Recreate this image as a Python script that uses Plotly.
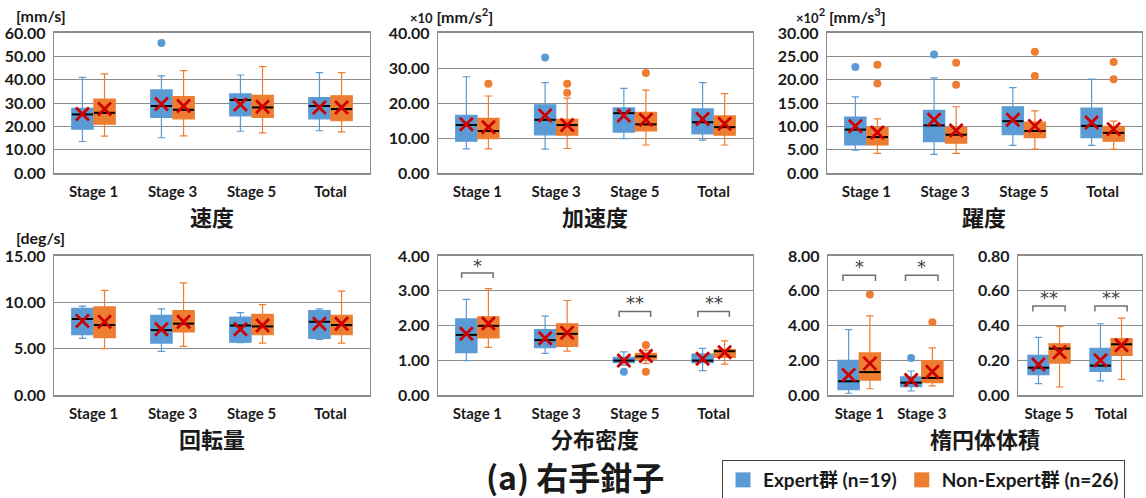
import plotly.graph_objects as go

W, H = 1146, 498

BLUE = "#5B9BD5"
ORANGE = "#ED7D31"
RED = "#D00000"
GRID = "#8C8C8C"
TEXT = "#1A1A1A"

group_names = ["Expert群 (n=19)", "Non-Expert群 (n=26)"]
cats_all = ["Stage 1", "Stage 3", "Stage 5", "Total"]
cats_early = ["Stage 1", "Stage 3"]
cats_late = ["Stage 5", "Total"]

# each row: (lower whisker, Q1, median, Q3, upper whisker, mean)
speed_exp = [(13.5, 18.8, 25.1, 27.7, 41.0, 25.3),
             (15.1, 23.8, 28.7, 35.6, 41.6, 29.6),
             (17.9, 24.5, 31.3, 33.9, 42.0, 29.4),
             (18.1, 23.2, 28.7, 32.3, 43.0, 28.1)]
speed_non = [(15.8, 20.9, 25.8, 31.7, 42.5, 27.4),
             (15.9, 23.2, 27.1, 32.7, 43.9, 28.7),
             (17.2, 23.8, 28.1, 33.3, 45.6, 28.4),
             (17.6, 22.4, 27.4, 33.1, 43.0, 28.1)]
speed_exp_out = [(1, 55.7)]
speed_non_out = []

accel_exp = [(6.9, 9.1, 13.7, 16.5, 27.5, 13.9),
             (6.8, 10.9, 15.2, 19.5, 25.8, 16.4),
             (9.8, 11.7, 17.1, 18.6, 24.2, 16.4),
             (9.4, 11.2, 14.5, 18.3, 25.8, 15.4)]
accel_non = [(6.9, 9.8, 12.0, 15.6, 22.0, 13.1),
             (7.0, 10.8, 13.7, 15.3, 21.4, 13.7),
             (8.0, 12.0, 13.9, 17.3, 23.7, 15.2),
             (8.0, 10.8, 13.1, 16.3, 22.7, 14.1)]
accel_exp_out = [(1, 33.0)]
accel_non_out = [(0, 25.5), (1, 25.5), (1, 22.9), (2, 28.6)]

jerk_exp = [(4.9, 6.0, 9.3, 12.0, 16.3, 10.0),
            (4.0, 6.7, 10.2, 13.4, 20.4, 11.4),
            (5.9, 8.2, 11.1, 14.2, 18.3, 11.4),
            (5.9, 7.6, 10.1, 13.9, 20.1, 10.8)]
jerk_non = [(4.2, 6.0, 7.7, 9.8, 11.6, 8.7),
            (4.2, 6.4, 8.2, 9.8, 14.2, 9.1),
            (5.1, 7.6, 9.0, 10.9, 13.3, 10.1),
            (5.1, 6.8, 8.6, 10.0, 11.1, 9.4)]
jerk_exp_out = [(0, 22.7), (1, 25.4)]
jerk_non_out = [(0, 23.2), (0, 19.2), (1, 23.6), (1, 18.9),
                (2, 26.0), (2, 20.8), (3, 23.8), (3, 20.1)]

rot_exp = [(6.1, 6.5, 8.2, 9.35, 9.6, 8.0),
           (4.7, 5.6, 7.0, 8.6, 9.3, 7.1),
           (5.65, 5.7, 7.5, 8.4, 8.9, 7.1),
           (6.0, 6.1, 7.9, 9.1, 9.3, 7.7)]
rot_non = [(5.0, 6.2, 7.55, 9.5, 11.3, 7.9),
           (5.25, 6.8, 7.7, 9.1, 12.1, 7.9),
           (5.6, 6.5, 7.4, 8.7, 9.75, 7.5),
           (5.6, 6.5, 7.55, 8.6, 11.2, 7.7)]

dens_exp = [(0.99, 1.22, 1.73, 2.19, 2.75, 1.76),
            (1.20, 1.36, 1.58, 1.88, 2.27, 1.63),
            (0.86, 0.93, 0.99, 1.08, 1.24, 0.99),
            (0.70, 0.93, 0.99, 1.18, 1.34, 1.04)]
dens_non = [(1.37, 1.64, 1.99, 2.25, 3.06, 2.06),
            (1.26, 1.40, 1.76, 2.05, 2.72, 1.79),
            (0.91, 1.03, 1.11, 1.20, 1.29, 1.12),
            (0.89, 1.08, 1.26, 1.31, 1.56, 1.23)]
dens_exp_out = [(2, 0.67)]
dens_non_out = [(2, 1.44), (2, 0.67)]
dens_sig = [(0, "*"), (2, "**"), (3, "**")]

vol_a_exp = [(0.10, 0.31, 0.79, 2.00, 3.76, 1.15),
             (0.23, 0.48, 0.71, 1.04, 1.38, 0.86)]
vol_a_non = [(0.36, 0.86, 1.32, 2.42, 4.55, 1.82),
             (0.52, 0.71, 0.98, 1.98, 2.71, 1.34)]
vol_a_exp_out = [(1, 2.13)]
vol_a_non_out = [(0, 5.78), (1, 4.18)]
vol_a_sig = [(0, "*"), (1, "*")]

vol_b_exp = [(0.065, 0.117, 0.157, 0.228, 0.332, 0.176),
             (0.081, 0.136, 0.169, 0.269, 0.410, 0.200)]
vol_b_non = [(0.046, 0.184, 0.267, 0.295, 0.395, 0.246),
             (0.090, 0.228, 0.292, 0.324, 0.443, 0.286)]
vol_b_sig = [(0, "**"), (1, "**")]


def px_x(a, b):
    return [a / W, b / W]


def px_y(top, bottom):
    return [1 - bottom / H, 1 - top / H]


TOP = (33, 173)
BOT = (256, 395)

# panel layout: pixel box, y range, tick step, box offsets and widths
panels = [
    dict(cats=cats_all, exp=speed_exp, non=speed_non, eo=speed_exp_out, no=speed_non_out,
         xpx=(54, 370), ypx=TOP, ymax=60, dtick=10, off=0.14, bw=0.27),
    dict(cats=cats_all, exp=accel_exp, non=accel_non, eo=accel_exp_out, no=accel_non_out,
         xpx=(438, 753), ypx=TOP, ymax=40, dtick=10, off=0.14, bw=0.27),
    dict(cats=cats_all, exp=jerk_exp, non=jerk_non, eo=jerk_exp_out, no=jerk_non_out,
         xpx=(827, 1142), ypx=TOP, ymax=30, dtick=5, off=0.14, bw=0.27),
    dict(cats=cats_all, exp=rot_exp, non=rot_non, eo=[], no=[],
         xpx=(54, 370), ypx=BOT, ymax=15, dtick=5, off=0.14, bw=0.27),
    dict(cats=cats_all, exp=dens_exp, non=dens_non, eo=dens_exp_out, no=dens_non_out,
         xpx=(438, 753), ypx=BOT, ymax=4, dtick=1, off=0.14, bw=0.27, sig=dens_sig),
    dict(cats=cats_early, exp=vol_a_exp, non=vol_a_non, eo=vol_a_exp_out, no=vol_a_non_out,
         xpx=(828, 953), ypx=BOT, ymax=8, dtick=2, off=0.17, bw=0.34, sig=vol_a_sig),
    dict(cats=cats_late, exp=vol_b_exp, non=vol_b_non, eo=[], no=[],
         xpx=(1018, 1142), ypx=BOT, ymax=0.8, dtick=0.2, off=0.17, bw=0.34, sig=vol_b_sig),
]

# bracket levels (fraction of the y range): tick foot, bar, star centre
panels[4]["levels"] = {0: (0.842, 0.878, 0.935), 2: (0.562, 0.600, 0.662), 3: (0.562, 0.600, 0.662)}
panels[4]["half"] = 0.2
panels[5]["levels"] = {0: (0.82, 0.862, 0.922), 1: (0.82, 0.862, 0.922)}
panels[5]["half"] = 0.26
panels[6]["levels"] = {0: (0.60, 0.64, 0.70), 1: (0.60, 0.64, 0.70)}
panels[6]["half"] = 0.26

fig = go.Figure()
layout = dict(
    width=W, height=H, margin=dict(l=0, r=0, t=0, b=0, autoexpand=False),
    paper_bgcolor="white", plot_bgcolor="white",
    boxmode="overlay", showlegend=True,
    font=dict(family="Lato, Noto Sans CJK JP", color=TEXT),
)

tick_font = dict(family="Lato, Noto Sans CJK JP", size=16, color=TEXT, weight="bold")
cat_font = dict(family="Lato, Noto Sans CJK JP", size=15, color=TEXT, weight="bold")

shapes = []
annotations = []
later = []

for i, p in enumerate(panels):
    n = "" if i == 0 else str(i + 1)
    xa, ya = "x" + n, "y" + n
    ncat = len(p["cats"])
    layout["xaxis" + n] = dict(
        domain=px_x(*p["xpx"]), anchor=ya, range=[-0.5, ncat - 0.5],
        tickvals=list(range(ncat)), ticktext=p["cats"], showgrid=False, zeroline=False,
        showline=True, linecolor=GRID, linewidth=1.5, mirror=True, ticks="",
        tickfont=cat_font, ticklabelstandoff=4, fixedrange=True, automargin=False)
    layout["yaxis" + n] = dict(
        domain=px_y(*p["ypx"]), anchor=xa, range=[0, p["ymax"]], dtick=p["dtick"],
        tick0=0, tickformat=".2f", showgrid=True, gridcolor=GRID, gridwidth=1.3,
        zeroline=False, showline=True, linecolor=GRID, linewidth=1.3, mirror=True,
        ticks="", tickfont=tick_font, ticklabelstandoff=4, fixedrange=True, automargin=False)

    for stats, outs, color, sign in ((p["exp"], p["eo"], BLUE, -1), (p["non"], p["no"], ORANGE, 1)):
        xs = [k + sign * p["off"] for k in range(ncat)]
        fig.add_trace(go.Box(
            x=xs, lowerfence=[s[0] for s in stats], q1=[s[1] for s in stats],
            median=[s[2] for s in stats], q3=[s[3] for s in stats],
            upperfence=[s[4] for s in stats], width=p["bw"], whiskerwidth=0.35,
            fillcolor=color, line=dict(color=color, width=1.2), boxpoints=False,
            xaxis=xa, yaxis=ya, showlegend=False, hoverinfo="skip"))
        mx, my = [], []
        for x, s in zip(xs, stats):
            mx += [x - p["bw"] / 2, x + p["bw"] / 2, None]
            my += [s[2], s[2], None]
        later.append(go.Scatter(x=mx, y=my, mode="lines", line=dict(color="black", width=2),
                                xaxis=xa, yaxis=ya, showlegend=False, hoverinfo="skip"))
        if outs:
            later.append(go.Scatter(
                x=[o[0] + sign * p["off"] for o in outs], y=[o[1] for o in outs],
                mode="markers", marker=dict(color=color, size=8),
                xaxis=xa, yaxis=ya, showlegend=False, hoverinfo="skip"))
        later.append(go.Scatter(
            x=xs, y=[s[5] for s in stats], mode="markers",
            marker=dict(symbol="x-thin", size=13, line=dict(color=RED, width=2.8)),
            xaxis=xa, yaxis=ya, showlegend=False, hoverinfo="skip"))

    for k, mark in p.get("sig") or []:
        lo, hi, st = p["levels"][k]
        h = p["half"]
        ymax = p["ymax"]
        shapes.append(dict(
            type="path", xref=xa, yref=ya,
            path=f"M {k - h} {lo * ymax} L {k - h} {hi * ymax} L {k + h} {hi * ymax} L {k + h} {lo * ymax}",
            line=dict(color="#6E6E6E", width=1.5)))
        annotations.append(dict(
            xref=xa, yref=ya, x=k, y=st * ymax, text=mark, showarrow=False,
            font=dict(family="DejaVu Sans", size=18, color="#404040"), yanchor="middle"))

for tr in later:
    fig.add_trace(tr)

# legend entries
for name, color in zip(group_names, (BLUE, ORANGE)):
    fig.add_trace(go.Scatter(x=[None], y=[None], mode="markers", name=name,
                             marker=dict(symbol="square", size=15, color=color)))

titles = [("速度", 212, 216), ("加速度", 595, 216), ("躍度", 984, 216),
          ("回転量", 212, 438), ("分布密度", 595, 438), ("楕円体体積", 985, 438)]
for t, x, y in titles:
    annotations.append(dict(xref="paper", yref="paper", x=x / W, y=1 - y / H, text=t,
                            showarrow=False, xanchor="center", yanchor="middle",
                            font=dict(family="Noto Sans CJK JP", size=22, color=TEXT, weight="bold")))

small = "<span style='font-size:13px'>×10</span>"
units = [("[mm/s]", 14, 16), (small + " [mm/s<sup>2</sup>]", 408, 16),
         (small + "<sup>2</sup> [mm/s<sup>3</sup>]", 794, 16), ("[deg/s]", 14, 238)]
for t, x, y in units:
    annotations.append(dict(xref="paper", yref="paper", x=x / W, y=1 - y / H, text=t,
                            showarrow=False, xanchor="left", yanchor="middle",
                            font=dict(family="Lato", size=16, color=TEXT, weight="bold")))

annotations.append(dict(xref="paper", yref="paper", x=575 / W, y=1 - 476 / H,
                        text="(a) 右手鉗子", showarrow=False, xanchor="center", yanchor="middle",
                        font=dict(family="Noto Sans CJK JP", size=32, color=TEXT, weight="bold")))

layout["shapes"] = shapes
layout["annotations"] = annotations
layout["legend"] = dict(
    orientation="h", x=722 / W, y=1 - 460 / H, xanchor="left", yanchor="top",
    bordercolor="#404040", borderwidth=1, bgcolor="white",
    font=dict(family="Lato, Noto Sans CJK JP", size=19, color=TEXT, weight="bold"),
    itemsizing="trace", traceorder="normal")

fig.update_layout(**layout)
fig.write_html("out.html")
